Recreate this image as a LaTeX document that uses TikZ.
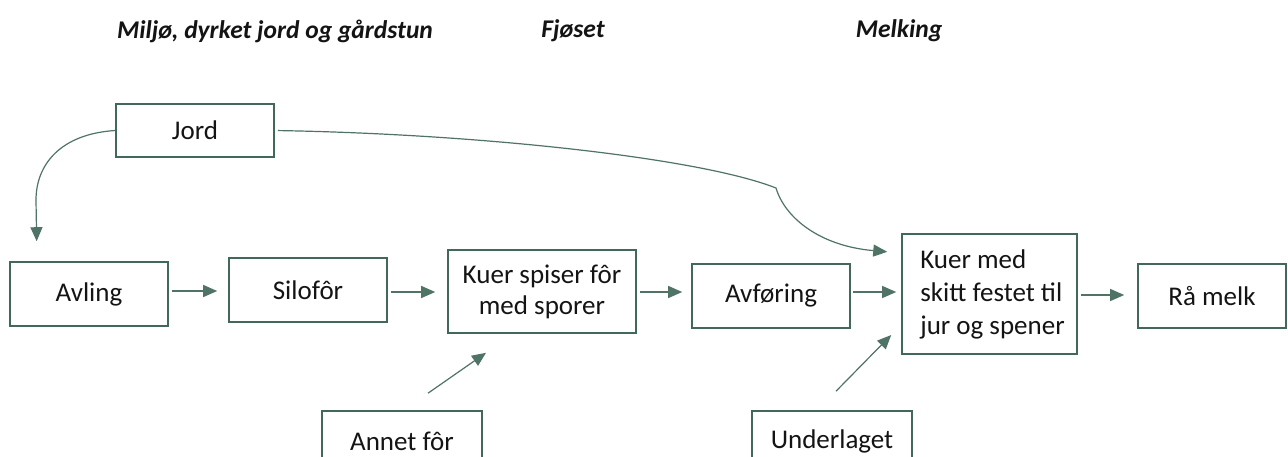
\documentclass[tikz,border=0pt]{standalone}
\usepackage{fontspec}
\setmainfont{Carlito}
\usetikzlibrary{arrows.meta}
\definecolor{bordc}{HTML}{41685A}
\definecolor{arrc}{HTML}{4F7365}
\definecolor{txtc}{HTML}{141414}
\begin{document}
\begin{tikzpicture}[x=1pt,y=-1pt,
  box/.style={draw=bordc,line width=1.6pt,rectangle,inner sep=0pt,text=txtc,
    font=\fontsize{27}{31}\selectfont,align=center},
  arr/.style={draw=arrc,line width=1.2pt,-{Triangle[length=14pt,width=12pt]}},
  ttl/.style={font=\fontsize{25.5}{30}\selectfont\bfseries\itshape,text=txtc,inner sep=0pt}]
\clip (0,0) rectangle (1288,456);
\fill[white] (0,0) rectangle (1288,456);
\node[ttl] (t1) at (275,31) {Miljø, dyrket jord og gårdstun};
\node[ttl] (t2) at (573,31) {Fjøset};
\node[ttl] (t3) at (899,31) {Melking};

\node[box,minimum width=158pt,minimum height=53pt] (jord) at (195,130.5) {Jord};
\node[box,minimum width=158pt,minimum height=64pt] (avling) at (89,294) {Avling};
\node[box,minimum width=158pt,minimum height=64pt] (silo) at (308,290) {Silofôr};
\node[box,minimum width=188pt,minimum height=83pt] (kuer) at (542,291.5) {Kuer spiser fôr\\med sporer};
\node[box,minimum width=175pt,minimum height=120pt,align=left,font=\fontsize{27}{33}\selectfont] (kmed) at (989.5,294) {\hspace*{6pt}Kuer med\\\hspace*{6pt}skitt festet til\\\hspace*{6pt}jur og spener};
\node[box,minimum width=158pt,minimum height=64pt] (avf) at (771,296) {Avføring};
\node[box,minimum width=148pt,minimum height=64pt] (raa) at (1212,296) {Rå melk};
\node[box,minimum width=160pt,minimum height=60pt] (annet) at (402,441) {Annet fôr};
\node[box,minimum width=160pt,minimum height=60pt] (under) at (832,441) {Underlaget};

\draw[arr,shorten <=3pt,shorten >=11pt] (avling.east |- 0,291) -- (silo.west |- 0,291);
\draw[arr,shorten <=3pt,shorten >=12pt] (silo.east |- 0,292) -- (kuer.west |- 0,292);
\draw[arr,shorten <=3pt,shorten >=9pt] (kuer.east |- 0,292) -- (avf.west |- 0,292);
\draw[arr,shorten <=2pt,shorten >=5pt] (avf.east |- 0,292) -- (kmed.west |- 0,292);
\draw[arr,shorten <=3pt,shorten >=13pt] (kmed.east |- 0,295) -- (raa.west |- 0,295);

\coordinate (a1) at ([xshift=26pt,yshift=17pt]annet.north);
\coordinate (a2) at ([xshift=-56pt,yshift=-19pt]kuer.south);
\draw[arr] (a1) -- (a2);
\coordinate (u1) at ([xshift=4pt,yshift=19pt]under.north);
\coordinate (u2) at ([xshift=-10pt,yshift=-41pt]kmed.west);
\draw[arr] (u1) -- (u2);

\coordinate (j1) at ([yshift=41pt]kmed.west);
\draw[arr,shorten <=3pt,shorten >=14pt] (jord.east) .. controls (480,134) and (700,158) .. (776,188) .. controls (785,218) and (820,246) .. (j1);
\coordinate (j2) at ([xshift=-52pt]avling.north);
\draw[arr,shorten >=20pt] (jord.west) .. controls (60,134) and (36,165) .. (36,200) -- (j2);
\end{tikzpicture}
\end{document}
